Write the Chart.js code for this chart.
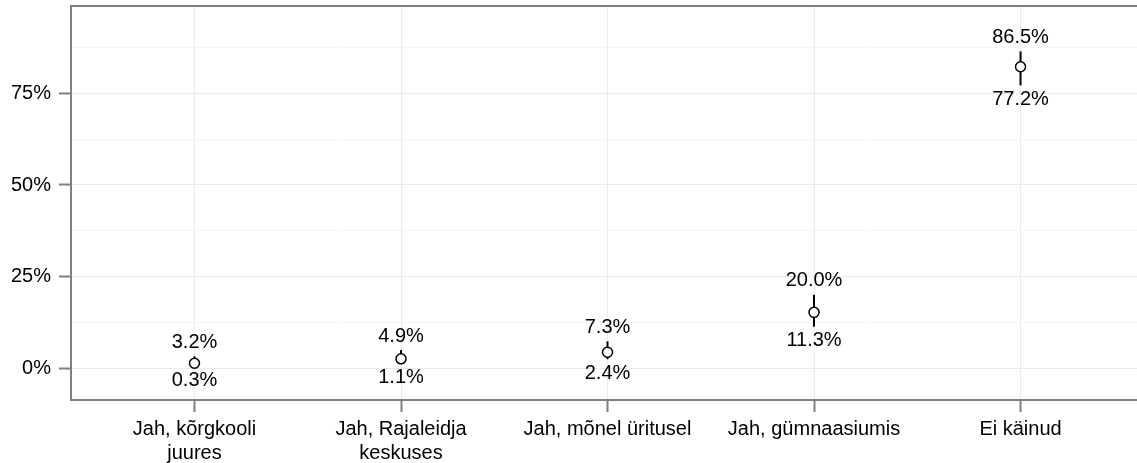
<!DOCTYPE html>
<html>
<head>
<meta charset="utf-8">
<script src="https://cdn.jsdelivr.net/npm/chart.js@4"></script>
<style>
  html, body { margin: 0; padding: 0; background: #fff; }
  canvas { display: block; }
</style>
</head>
<body>
<canvas id="c" width="1137" height="463"></canvas>
<script>
const categories = [["Jah, kõrgkooli", "juures"], ["Jah, Rajaleidja", "keskuses"], "Jah, mõnel üritusel", "Jah, gümnaasiumis", "Ei käinud"];
const estimates = [1.3, 2.5, 4.3, 15.2, 82.3];
const lower = [0.3, 1.1, 2.4, 11.3, 77.2];
const upper = [3.2, 4.9, 7.3, 20.0, 86.5];
const yMajorTicks = [0, 25, 50, 75];
const yMinorTicks = [12.5, 37.5, 62.5, 87.5];

const FONT = "'Liberation Sans', Arial, sans-serif";
const BORDER = '#7f7f7f';

const points = estimates.map((v, i) => ({ x: i + 1, y: v }));

const errorBars = {
  id: 'errorBars',
  beforeDatasetsDraw(chart) {
    const { ctx, scales: { x, y } } = chart;
    ctx.save();
    ctx.strokeStyle = '#000';
    ctx.lineWidth = 2;
    lower.forEach((lo, i) => {
      const px = x.getPixelForValue(i + 1);
      ctx.beginPath();
      ctx.moveTo(px, y.getPixelForValue(lo));
      ctx.lineTo(px, y.getPixelForValue(upper[i]));
      ctx.stroke();
    });
    ctx.restore();
  },
  afterDatasetsDraw(chart) {
    const { ctx, scales: { x, y } } = chart;
    ctx.save();
    ctx.fillStyle = '#000';
    ctx.font = '20px ' + FONT;
    ctx.textAlign = 'center';
    ctx.textBaseline = 'middle';
    lower.forEach((lo, i) => {
      const px = x.getPixelForValue(i + 1);
      ctx.fillText(upper[i].toFixed(1) + '%', px, y.getPixelForValue(upper[i]) - 14);
      ctx.fillText(lo.toFixed(1) + '%', px, y.getPixelForValue(lo) + 14);
    });
    ctx.restore();
  },
  afterDraw(chart) {
    const { ctx, chartArea: a } = chart;
    ctx.save();
    ctx.strokeStyle = BORDER;
    ctx.lineWidth = 2;
    ctx.strokeRect(a.left, a.top, a.right - a.left + 4, a.bottom - a.top);
    ctx.restore();
  }
};

new Chart(document.getElementById('c'), {
  type: 'scatter',
  data: {
    datasets: [{
      data: points,
      pointRadius: 5,
      pointHoverRadius: 5,
      pointBackgroundColor: '#fff',
      pointBorderColor: '#000',
      pointBorderWidth: 1.5,
      showLine: false
    }]
  },
  options: {
    responsive: false,
    animation: false,
    events: [],
    layout: { autoPadding: false, padding: { top: 6, right: 0, bottom: 0, left: 0 } },
    plugins: { legend: { display: false }, tooltip: { enabled: false } },
    scales: {
      x: {
        type: 'linear',
        min: 0.402,
        max: 5.564,
        afterBuildTicks(scale) {
          scale.ticks = categories.map((c, i) => ({ value: i + 1 }));
        },
        afterFit(scale) {
          scale.height = 63;
          scale.paddingLeft = 0; scale.paddingRight = 0;
        },
        ticks: {
          callback: (v) => categories[v - 1],
          color: '#000',
          font: { family: FONT, size: 20, lineHeight: 1.2 },
          padding: 5,
          maxRotation: 0,
          autoSkip: false
        },
        grid: {
          color: '#ebebeb',
          lineWidth: 1,
          tickColor: BORDER,
          tickLength: 12,
          tickWidth: 2
        },
        border: { display: false }
      },
      y: {
        type: 'linear',
        min: -8.74,
        max: 98.9,
        afterBuildTicks(scale) {
          scale.ticks = yMajorTicks.concat(yMinorTicks).sort((a, b) => a - b).map(v => ({ value: v }));
        },
        afterFit(scale) {
          scale.width = 71;
          scale.paddingTop = 0; scale.paddingBottom = 0;
        },
        ticks: {
          callback: (v) => yMajorTicks.includes(v) ? v + '%' : '',
          color: '#000',
          font: { family: FONT, size: 20 },
          padding: 8,
          autoSkip: false
        },
        grid: {
          color: (ctx) => ctx.tick && yMajorTicks.includes(ctx.tick.value) ? '#ebebeb' : '#f5f5f5',
          lineWidth: 1,
          tickColor: (ctx) => ctx.tick && yMajorTicks.includes(ctx.tick.value) ? BORDER : 'rgba(0,0,0,0)',
          tickLength: 12,
          tickWidth: 2
        },
        border: { display: false }
      }
    }
  },
  plugins: [errorBars]
});
</script>
</body>
</html>
